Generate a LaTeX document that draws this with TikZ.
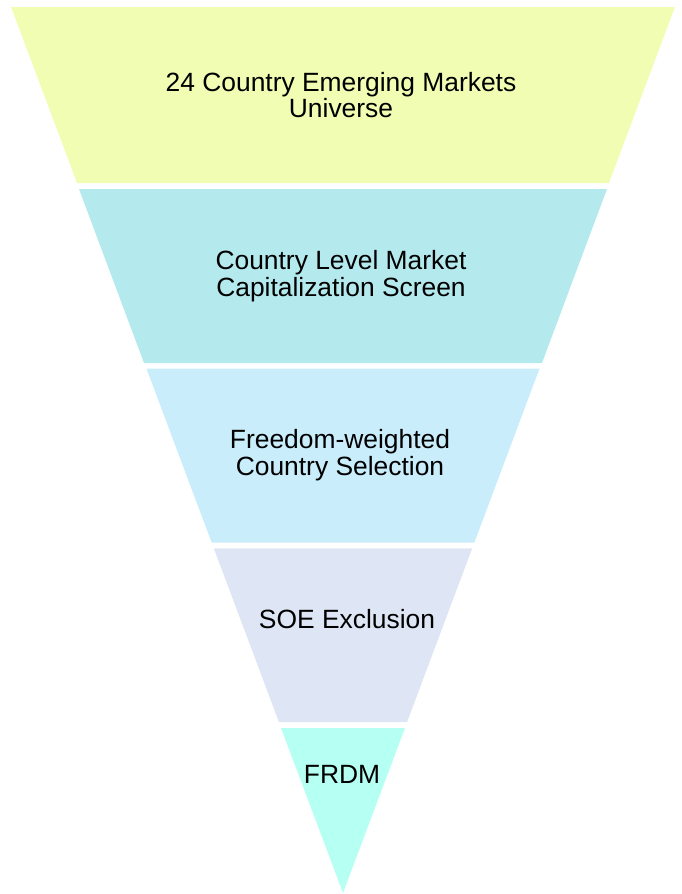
\documentclass[tikz,border=0pt]{standalone}
\usepackage{fontspec}
\setmainfont{Liberation Sans}
\definecolor{stageone}{RGB}{242,253,180}
\definecolor{stagetwo}{RGB}{180,234,238}
\definecolor{stagethree}{RGB}{201,237,251}
\definecolor{stagefour}{RGB}{222,230,245}
\definecolor{stagefive}{RGB}{182,255,243}
\begin{document}
\begin{tikzpicture}[x=1pt, y=-1pt,
    stagetext/.style={font=\fontsize{26.4}{26.4}\selectfont, align=center, inner sep=0pt}]
    \useasboundingbox (0,0) rectangle (681,894);

    % Level 1: universe
    \fill[stageone] (11,7) -- (675,7) -- (609,183) -- (77,183) -- cycle;
    \node[stagetext] (universe) at (341,95) {24 Country Emerging Markets\\Universe};

    % Level 2: market cap screen
    \fill[stagetwo] (79,189) -- (607,189) -- (542,363) -- (144,363) -- cycle;
    \node[stagetext] (capscreen) at (341,276) {Country Level Market\\Capitalization Screen};

    % Level 3: freedom weighting
    \fill[stagethree] (146.5,368.7) -- (539.5,368.7) -- (474.3,542.7) -- (211.7,542.7) -- cycle;
    \node[stagetext] (freedom) at (340,455) {Freedom-weighted\\Country Selection};

    % Level 4: SOE exclusion
    \fill[stagefour] (213.8,548.3) -- (472.2,548.3) -- (407.1,722) -- (278.9,722) -- cycle;
    \node[stagetext] (soe) at (347,619) {SOE Exclusion};

    % Level 5: the fund
    \fill[stagefive] (281,728) -- (405,728) -- (343,893) -- cycle;
    \node[stagetext] (frdm) at (342,774) {FRDM};
\end{tikzpicture}
\end{document}
